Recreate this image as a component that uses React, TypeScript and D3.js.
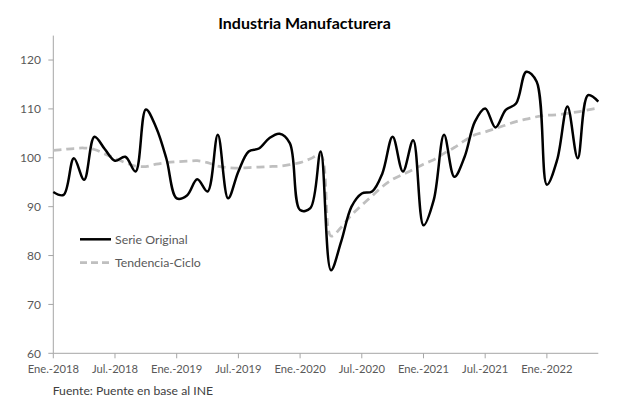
import * as d3 from "d3";

const W = 617;
const H = 412;

const tickLabels = [
  "Ene.-2018",
  "Jul.-2018",
  "Ene.-2019",
  "Jul.-2019",
  "Ene.-2020",
  "Jul.-2020",
  "Ene.-2021",
  "Jul.-2021",
  "Ene.-2022",
];
const yTicks = [60, 70, 80, 90, 100, 110, 120];

// monthly, Ene.-2018 .. Jun.-2022
const serieOriginal = [
  93, 92.4, 99.9, 95.5, 104.3, 101.8, 99.4, 100.2, 97.2, 109.9, 106.2, 99.8,
  91.7, 92.3, 95.6, 93.1, 104.7, 91.7, 97.2, 101.3, 101.9, 104, 104.9, 103,
  89.3, 89.7, 101.3, 77, 82.9, 90, 92.7, 93.1, 96.8, 104.3, 97.2, 103.6,
  86.2, 91.4, 104.7, 96.1, 100.2, 107.4, 110.1, 106.2, 109.8, 111.1, 117.6, 115.6,
  94.5, 99.6, 110.5, 99.9, 112.8, 111.5,
];
const tendenciaCiclo = [
  101.5, 101.7, 101.9, 102, 101.7, 100.8, 99.9, 99, 98.3, 98.2, 98.7, 99,
  99.2, 99.3, 99.4, 99, 98.3, 98, 97.9, 98, 98.1, 98.2, 98.3, 98.6,
  99, 99.8, 100.6, 84, 85.8, 88.3, 90.3, 92.2, 94.1, 95.6, 96.6, 97.6,
  98.7, 99.6, 100.9, 102.1, 103.5, 104.7, 105.3, 106, 106.7, 107.4, 107.9, 108.4,
  108.7, 108.8, 109.1, 109.4, 109.8, 110.2,
];

const FONT = "Lato, 'Open Sans', sans-serif";

export default function App() {
  const x = d3.scaleLinear().domain([0, serieOriginal.length - 1]).range([53.3, 598.3]);
  const y = d3.scaleLinear().domain([60, 125]).range([353.3, 35.6]);

  const line = d3
    .line<number>()
    .x((_, i) => x(i))
    .y((d) => y(d))
    .curve(d3.curveCatmullRom.alpha(0.5));

  const x0 = x.range()[0];
  const x1 = x.range()[1];
  const yBase = y(60);

  return (
    <svg
      width={W}
      height={H}
      style={{ position: "absolute", left: 0, top: 0, background: "#fff" }}
      fontFamily={FONT}
    >
      <rect width={W} height={H} fill="#fff" />
      <text x={304.5} y={29} textAnchor="middle" fontSize={16} fontWeight="bold" fill="#000">
        Industria Manufacturera
      </text>

      {/* y axis */}
      <line x1={x0} x2={x0} y1={y(125)} y2={yBase} stroke="#a6a6a6" strokeWidth={1} />
      {yTicks.map((t) => (
        <g key={t}>
          <line x1={x0 - 5} x2={x0} y1={y(t)} y2={y(t)} stroke="#a6a6a6" />
          <text x={41} y={y(t) + 4.3} textAnchor="end" fontSize={12} fill="#595959">
            {t}
          </text>
        </g>
      ))}

      {/* x axis */}
      <line x1={x0} x2={x1} y1={yBase} y2={yBase} stroke="#a6a6a6" strokeWidth={1} />
      {tickLabels.map((lab, k) => (
        <g key={lab}>
          <line x1={x(k * 6)} x2={x(k * 6)} y1={yBase} y2={yBase + 5} stroke="#a6a6a6" />
          <text x={x(k * 6)} y={yBase + 20} textAnchor="middle" fontSize={11.2} fill="#595959">
            {lab}
          </text>
        </g>
      ))}

      <path
        d={line(tendenciaCiclo) ?? ""}
        fill="none"
        stroke="#bfbfbf"
        strokeWidth={2.75}
        strokeDasharray="8,5"
      />
      <path d={line(serieOriginal) ?? ""} fill="none" stroke="#000" strokeWidth={2.5} />

      {/* legend */}
      <line x1={80} x2={111} y1={239.3} y2={239.3} stroke="#000" strokeWidth={2.5} />
      <text x={115} y={243.5} fontSize={12.3} fill="#595959">
        Serie Original
      </text>
      <line
        x1={80}
        x2={111}
        y1={262.7}
        y2={262.7}
        stroke="#bfbfbf"
        strokeWidth={2.75}
        strokeDasharray="7,4"
      />
      <text x={115} y={267} fontSize={12.3} fill="#595959">
        Tendencia-Ciclo
      </text>

      <text x={52.7} y={395} fontSize={12.2} fill="#404040">
        Fuente: Puente en base al INE
      </text>
    </svg>
  );
}
